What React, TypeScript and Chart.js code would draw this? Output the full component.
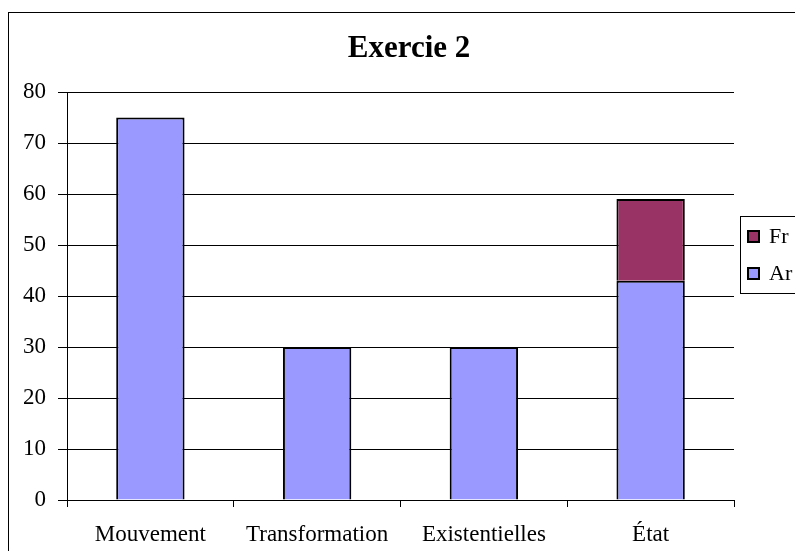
import React, { useEffect, useRef } from "react";
import { Chart, registerables } from "chart.js";

Chart.register(...registerables);

const TITLE = "Exercie 2";
const CATEGORIES = ["Mouvement", "Transformation", "Existentielles", "État"];
const AR_VALUES = [75, 30, 30, 43];
const FR_VALUES = [null, null, null, 16];
const Y_MIN = 0;
const Y_MAX = 80;
const Y_STEP = 10;

const FONT = '"Liberation Serif", "Times New Roman", serif';

const framePlugin = {
  id: "frame",
  beforeDraw(chart: any) {
    const ctx = chart.ctx;
    ctx.save();
    ctx.fillStyle = "#ffffff";
    ctx.fillRect(0, 0, chart.width, chart.height);
    ctx.strokeStyle = "#000000";
    ctx.lineWidth = 1;
    ctx.strokeRect(8.5, 12.5, chart.width + 20, chart.height + 20);
    ctx.restore();
  },
};

const titlePlugin = {
  id: "frameTitle",
  afterDraw(chart: any) {
    const ctx = chart.ctx;
    ctx.save();
    ctx.font = `bold 31px ${FONT}`;
    ctx.fillStyle = "#000000";
    ctx.textAlign = "center";
    ctx.textBaseline = "middle";
    ctx.fillText(TITLE, 409, 49);
    ctx.restore();
  },
};

const legendBoxPlugin = {
  id: "legendBox",
  afterDraw(chart: any) {
    const ctx = chart.ctx;
    const ds = chart.data.datasets.slice().reverse();
    ctx.save();
    ctx.strokeStyle = "#000000";
    ctx.lineWidth = 1;
    const bx = 740.5;
    const by = 216.5;
    ctx.strokeRect(bx, by, 100, 77);
    ctx.font = `22px ${FONT}`;
    ctx.textBaseline = "middle";
    ctx.textAlign = "left";
    ds.forEach((d: any, i: number) => {
      const cy = 236.5 + i * 37;
      ctx.fillStyle = d.backgroundColor;
      ctx.fillRect(748, cy - 5.5, 11, 11);
      ctx.lineWidth = 2;
      ctx.strokeStyle = "#000000";
      ctx.strokeRect(748, cy - 5.5, 11, 11);
      ctx.fillStyle = "#000000";
      ctx.fillText(d.label, 769, cy + 1);
    });
    ctx.restore();
  },
};

export default function App() {
  const canvasRef = useRef<HTMLCanvasElement | null>(null);

  useEffect(() => {
    if (!canvasRef.current) return;
    const chart = new Chart(canvasRef.current, {
      type: "bar",
      data: {
        labels: CATEGORIES,
        datasets: [
          {
            label: "Ar",
            data: AR_VALUES,
            backgroundColor: "#9999FF",
            borderColor: "#000000",
            borderWidth: 2,
            categoryPercentage: 1,
            barPercentage: 0.41,
          },
          {
            label: "Fr",
            data: FR_VALUES as any,
            backgroundColor: "#993366",
            borderColor: "#000000",
            borderWidth: 2,
            categoryPercentage: 1,
            barPercentage: 0.41,
          },
        ],
      },
      options: {
        responsive: false,
        animation: false,
        devicePixelRatio: 1,
        layout: { padding: { left: 0, top: 92, right: 61, bottom: 0 } },
        plugins: {
          legend: { display: false },
          tooltip: { enabled: false },
          title: { display: false },
        },
        scales: {
          x: {
            stacked: true,
            offset: true,
            grid: {
              display: true,
              offset: true,
              drawOnChartArea: false,
              drawTicks: true,
              tickLength: 7,
              color: "#000000",
            },
            border: { display: true, color: "#000000" },
            ticks: {
              color: "#000000",
              font: { family: FONT, size: 23 },
              padding: 14,
              maxRotation: 0,
              autoSkip: false,
            },
            afterFit(scale: any) {
              scale.height = 51;
            },
          },
          y: {
            stacked: true,
            min: Y_MIN,
            max: Y_MAX,
            grid: {
              color: "#000000",
              tickLength: 9,
              drawTicks: true,
            },
            border: { display: true, color: "#000000" },
            ticks: {
              stepSize: Y_STEP,
              color: "#000000",
              font: { family: FONT, size: 23 },
              padding: 12,
            },
            afterFit(scale: any) {
              scale.width = 67;
            },
          },
        },
      },
      plugins: [framePlugin, titlePlugin, legendBoxPlugin],
    });
    return () => chart.destroy();
  }, []);

  return (
    <div style={{ position: "fixed", left: 0, top: 0, width: 795, height: 551 }}>
      <canvas ref={canvasRef} width={795} height={551} style={{ display: "block" }} />
    </div>
  );
}
